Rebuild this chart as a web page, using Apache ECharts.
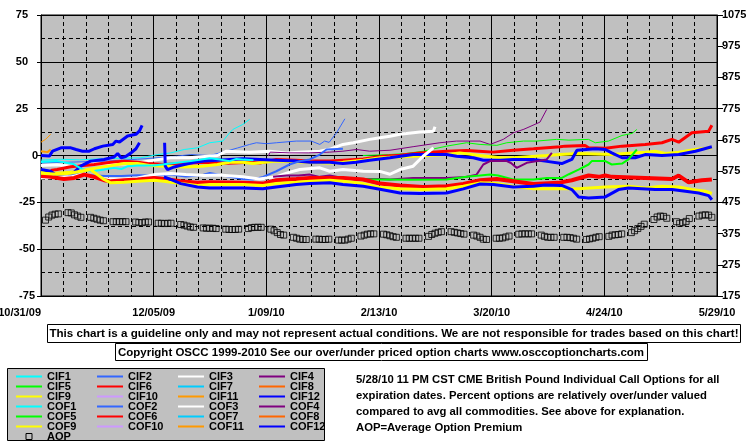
<!DOCTYPE html>
<html><head><meta charset="utf-8">
<script src="https://cdn.jsdelivr.net/npm/echarts@6/dist/echarts.min.js"></script>
<style>html,body{margin:0;padding:0;background:#fff}#c{width:755px;height:446px}</style>
</head><body><div id="c"></div>
<script>
// x = days since 10/31/09
const xLabels = ['10/31/09','12/05/09','1/09/10','2/13/10','3/20/10','4/24/10','5/29/10'];
const seriesNames = ['CIF1','CIF2','CIF3','CIF4','CIF5','CIF6','CIF7','CIF8','CIF9','CIF10','CIF11','CIF12',
                     'COF1','COF2','COF3','COF4','COF5','COF6','COF7','COF8','COF9','COF10','COF11','COF12'];

const cif1 = [[0,-2.5],[6,-2],[12,-2.3],[18,-1.8],[24,-1.5],[31,-1.2],[36.2,0.5],[40.3,1.4],[44.5,3.2],[48.6,4.1],[52.4,6.8],[56.5,7.7],[58.6,12.1],[59.6,13.9],[62.7,16.6],[64.8,19.3]];
const cof1 = [[0,-3.5],[5,-3],[10,-4.5],[13,-7.5],[16,-8.4],[19.6,-7.5],[22.7,-6.6],[25,-7.2],[27,-5.7],[30,-5.4],[35,-5.4],[40.3,-4.3],[46.5,-3],[52.4,-1.5],[55,-2],[58.6,-3],[60.7,-1.8],[63,-2.2],[66,-2.5]];
const cif2 = [[0,-4],[10,-3.5],[20,-3],[30,-2],[38,-1],[42.4,-0.3],[46.5,0.5],[52.4,0],[56.5,1.8],[61,4],[64.8,5.9],[66.9,6.8],[70,6.3],[73.1,6.8],[79.3,7.7],[84,7.7],[86.6,5.9],[88.1,7.7],[89.5,7],[91.8,12.1],[94.4,19.6]];
const cof2 = [[0,-10.2],[5,-10.2],[10,-10],[15,-10.5],[20,-11],[25,-11],[30,-10.5],[35,-10.7],[40,-10.2],[45,-11.2],[50,-10.5],[52.4,-9.3],[58.6,-11.4],[62.7,-12.5],[65.8,-12.8],[69,-11.4],[73.1,-8.4],[77.2,-4.8],[80.4,-3],[83.5,-2.1],[86.6,0.5],[88.7,3.2],[93.8,3.6]];
const cif3 = [[0,-5.4],[5,-5],[9.2,-5.7],[14.4,-4.8],[19.6,-4.3],[25,-4.6],[30,-4.3],[33.1,-3],[40.3,-1.2],[46,-1.2],[54.8,0],[57.6,2.3],[64.8,1.8],[71,2.3],[76.2,1.4],[80,1.8],[86.6,2.3],[90,3.5],[93.8,5.9],[97,6.8],[102.1,8.6],[105.3,9.5],[108.4,10.3],[111.5,11.3],[117.7,12.5],[121.9,13],[122.4,15.4]];
const cof3 = [[0,-12],[5,-11.8],[9.2,-11.4],[12.3,-10.2],[15,-11],[19.6,-12.5],[25.8,-12.5],[30,-12],[35.1,-10.2],[40.3,-9.6],[45,-10.2],[50.7,-10.7],[55,-10.4],[62.7,-11.4],[67.9,-12.5],[73,-11.4],[77,-9],[80.4,-7.5],[86.6,-6.6],[89.7,-8.4],[93.8,-7.5],[100.1,-8.4],[105.3,-8.5],[108.4,-10],[111.5,-7.5],[115.6,-5.7],[118.7,-0.4],[121.9,4.1]];
const cif4 = [[70.6,-0.3],[71.2,1.8],[77.3,1.4],[83,1.4],[89.7,1.8],[93.8,2.3],[98,3.2],[102.1,2.3],[108.4,2.8],[115.6,4.7],[123.9,6.8],[129.1,7.7],[136.4,7.7],[139.5,5.9],[143.6,8.6],[146.7,12.1],[150,14],[155,17.8],[157.1,24.6]];
const cof4 = [[72.1,-11.4],[76.2,-10.7],[80,-10.7],[83.5,-10.2],[86.6,-11.4],[89.7,-10.7],[93.8,-12],[100.1,-12.5],[105.3,-12.5],[108.4,-12.8],[115.6,-12],[126,-12],[132,-11.5],[135.3,-10.2],[137.4,-4.8],[139.5,-3],[144.7,-3],[146,-4],[147.8,-6.6],[150.9,-3.9],[157.1,-2.1],[158.7,1.4]];
const cif5 = [[100,0],[108,0.5],[113,1],[118.7,2.3],[126,5],[132.2,6.8],[136.4,5.9],[141.6,5.4],[144.7,6.8],[149.9,7.7],[154,7.7],[160.2,8.6],[164,8.2],[170.1,8.6],[172.2,6.8],[176.3,7.7],[180.5,10.7],[183.6,11.8],[185.1,13.9]];
const cof5 = [[99,-12.8],[105.3,-12.8],[115,-13],[126,-12.8],[132.2,-11.4],[136.4,-10.7],[139.5,-10.2],[142,-10.7],[146.7,-12.8],[153,-12.8],[157.1,-12],[161.8,-12],[164,-10],[167,-7.5],[170.1,-4.8],[171.1,-3],[175.3,-3],[177.3,-4.8],[180.5,-4.3],[182.5,-2.1],[185.1,3.2]];
const cif6 = [[3,-8],[5,-7.5],[9.2,-6],[16.5,-4.8],[21.7,-3.6],[25.8,-3],[30,-3.6],[33.1,-4.3],[38.3,-4.8],[44,-4.3],[50.7,-3.6],[52.4,-3.9],[58,-4.1],[64.8,-3.6],[68,-4],[73.1,-2.1],[79.3,-2.5],[83.5,-3],[89.7,-3],[94,-2.5],[100.1,-1.8],[106.3,-0.4],[111.5,0.2],[117.7,1.4],[126,2.3],[132.2,2.7],[136,2.3],[140.5,1.8],[146.7,2.8],[153,3.6],[161.3,4.7],[162.8,5],[169,5.4],[170.1,4.1],[175.3,3.9],[180.5,5],[187.7,5.9],[192.9,6.8],[196,8.6],[198.1,7.1],[202.2,12.1],[207.4,13],[208.4,16.1]];
const cof6 = [[0,-11],[3,-11.4],[7.1,-12.5],[10.3,-12],[13.4,-10.2],[16.5,-11.4],[19.6,-13.2],[21.7,-13.8],[25.8,-13.2],[30,-12.8],[35.1,-12],[38.2,-12.5],[43.4,-13.8],[48.6,-14.6],[52.4,-14.3],[62.7,-14.6],[68.9,-15],[73.1,-13.2],[79.3,-12.5],[83.5,-12],[93.8,-12],[100.1,-12.8],[105.3,-15],[111.5,-16],[118.7,-16.8],[126,-16.4],[131.2,-15.2],[136.4,-13.2],[141.6,-12.5],[146.7,-13.7],[153,-15.2],[160.7,-14.6],[164.9,-13.2],[170.1,-10.7],[173.2,-11.4],[175.3,-10.7],[177.3,-11.4],[187.7,-12],[196,-12.5],[198.1,-10.7],[201.2,-14.3],[205.3,-13.2],[208.4,-12.8]];
const cif9 = [[0,-9],[5,-9.5],[9,-9],[12.3,-8.4],[15.4,-7.2],[17.5,-6.6],[21.7,-5.4],[25.8,-4.3],[30,-4.3],[34.1,-5.4],[38.2,-5.7],[44.5,-6.1],[50,-5.7],[54.8,-4.8],[58.6,-3.6],[62.7,-3.6],[65.8,-4.3],[73.1,-3],[83.5,-3.6],[89,-4],[93.8,-3.6],[100.1,-2.5],[105.3,-1.2],[115.6,-0.4],[126,0.5],[130.1,1.4],[136.4,0],[142.6,-1.2],[146.7,-1.2],[157.1,0],[161.3,0.5],[167,1.1],[177.3,0.5],[183.6,1.4],[187.7,1.8],[190.8,2.3],[193.9,1.1],[198.1,1.8],[203.3,3.2],[208.4,4.1]];
const cof9 = [[0,-9.5],[5,-10],[9,-9.5],[12.3,-8.4],[15.4,-7.5],[17.5,-10.2],[19.6,-12.8],[21.7,-14.6],[25.8,-14.3],[30,-13.8],[35.1,-13.2],[38.2,-13.8],[43.4,-15],[48.6,-16],[52.4,-15.5],[62.7,-15.5],[68.9,-16],[73.1,-15],[79.3,-14.3],[83.5,-13.7],[89.7,-13.2],[93.8,-13.7],[100.1,-15],[105.3,-17],[111.5,-17.8],[118.7,-18.2],[126,-17.8],[131.2,-16.4],[136.4,-14.6],[141.6,-15],[146.7,-16.4],[153,-17.8],[161.3,-17.8],[167,-17.8],[175.3,-16.8],[182.5,-16.4],[187.7,-17.3],[192.9,-16.4],[198.1,-16.8],[202.2,-18.2],[206.4,-19.1],[208.4,-20.3]];
const cif11 = [[0,7.1],[1.4,8.6],[3,11.3]];
const cof11 = [[0,2.3],[2,1.8],[3,3.2]];
const cif12 = [[0,-7.5],[3,-8.4],[5.1,-11],[8.2,-12],[9.2,-10.7],[12.3,-5.7],[15.4,-3],[19.6,-2.1],[22.7,-0.8],[23.8,1.1],[24.9,-1.2],[26.3,-0.5],[28,1.4],[29.5,3.6],[30.6,6.8],[34.5,'-'],[38.4,6.8],[38.6,-5.7],[39.3,-7.5],[41.4,-6.1],[44.5,-4.8],[47.6,-3.6],[50.7,-3],[54.8,-2.5],[58.6,-2.1],[62.7,-1.8],[68,-2.1],[73.1,-2.5],[79.3,-3],[83.5,-3.6],[89.7,-3.6],[93.8,-4.3],[97.9,-3.6],[102.1,-2.5],[108.4,-1.2],[115.6,0.5],[126,0.5],[129.1,-0.4],[134.3,-1.2],[137.4,-2.5],[142.6,-2.5],[146.7,-2.1],[153,-2.1],[156.6,-3],[161.8,-4.3],[164.9,-2.1],[166.5,2.8],[172.2,3.6],[175.3,3.2],[177.3,1.4],[180.5,-1.2],[184.6,-1.2],[187.7,0.5],[192.9,0],[198.1,0.5],[203.3,2.3],[208.4,4.7]];
const cof12 = [[0,0],[2.6,-0.3],[3.6,2.3],[6.2,4.1],[9.3,4.1],[10.9,3.2],[12.9,2.3],[15,2.3],[16.6,3.6],[19.2,5],[22.3,5.9],[23.3,7.7],[24.4,7.2],[26.9,10.4],[29.5,11.3],[30.6,13.1],[31.4,16.1],[34.5,'-'],[38.2,-11.4],[40.3,-12.8],[43.4,-15],[48.6,-16.8],[52.4,-17.3],[62.7,-17.3],[68.9,-17.8],[73.1,-16.8],[79.3,-15.5],[83.5,-15],[89.7,-14.6],[93.8,-15.5],[100.1,-16.4],[105.3,-18],[111.5,-20],[117.7,-20.3],[126,-20],[131.2,-17.8],[136.4,-15.2],[140.5,-15.5],[146.7,-16.8],[153,-16.4],[156.6,-15.8],[161.8,-16],[164.9,-18.2],[167,-22.1],[170.1,-22.7],[175.3,-22.1],[179.4,-18.2],[182.5,-17.3],[190.8,-18.2],[196,-18.2],[200.2,-19.1],[204.3,-20],[207.4,-21.4],[208.4,-23.6]];

// Average option premium, one value per trading day (Mon..Fri of each week), right axis
const aopVals = [
 418,428,434,437,438, 442,441,435,431,427, 427,424,421,418,416, 413,413,413,413,413,
 412,410,410,412,412, 408,408,407,408,408, 404,402,399,396,395, 393,392,392,392,391,
 389,388,388,388,389, 391,394,395,395,395, 389,384,378,372,370, 363,360,357,356,356,
 357,357,356,356,357, 354,354,354,357,360, 367,370,373,374,374, 373,371,368,365,363,
 360,360,360,360,360, 366,372,376,379,381, 381,379,377,375,373, 370,367,363,357,356,
 360,360,361,364,367, 373,374,374,374,374, 370,366,363,363,363, 363,363,362,360,357,
 356,358,360,363,365, 366,370,371,372,374, 378,384,391,398,405, 420,428,431,430,424,
 413,408,410,414,423, 431,434,435,434,427];
const firstMonday = 1.4;

const descLines = [
 '5/28/10 11 PM CST CME British Pound Individual Call Options for all',
 'expiration dates. Percent options are relatively over/under valued',
 'compared to avg all commodities. See above for explanation.',
 'AOP=Average Option Premium'];

const lineData = {CIF1:cif1,CIF2:cif2,CIF3:cif3,CIF4:cif4,CIF5:cif5,CIF6:cif6,CIF9:cif9,CIF11:cif11,CIF12:cif12,
  COF1:cof1,COF2:cof2,COF3:cof3,COF4:cof4,COF5:cof5,COF6:cof6,COF9:cof9,COF11:cof11,COF12:cof12};
const palette = ['#00FFFF','#3366FF','#FFFFFF','#800080','#00FF00','#FF0000','#00CCFF','#FF6600','#FFFF00','#CC99FF','#FF9900','#0000FF'];
const cifWidth = [1,1,3,1,1,3,1,1,3,1,1,3];
const cofWidth = [2,2,3,2,2,4,2,2,3,2,2,3];

const FONT = '"Liberation Sans", Arial, sans-serif';
const aop = aopVals.map((v,i) => [firstMonday + Math.floor(i/5)*7 + (i%5), v]);

const series = seriesNames.map((n,i) => {
  const k = i % 12;
  const w = i < 12 ? cifWidth[k] : cofWidth[k];
  return {name:n, type:'line', data: lineData[n] || [], symbol:'none', showSymbol:false,
    connectNulls:false, animation:false,
    lineStyle:{color:palette[k], width:w}, itemStyle:{color:palette[k]}};
});
series.push({name:'AOP', type:'scatter', yAxisIndex:1, symbol:'rect', symbolSize:6, data:aop, animation:false,
  itemStyle:{color:'rgba(0,0,0,0)', borderColor:'#000', borderWidth:1}});

const legendData = seriesNames.map(n => n);
legendData.push({name:'AOP', icon:'path://M0,0L10,0L10,10L0,10Z', itemStyle:{opacity:1, borderWidth:1, borderColor:'#000', color:'rgba(0,0,0,0)'}});

const axisFont = {color:'#000', fontWeight:'bold', fontSize:11, fontFamily:FONT};
const chart = echarts.init(document.getElementById('c'), null, {renderer:'canvas'});
chart.setOption({
  animation:false,
  backgroundColor:'#fff',
  grid:{left:41, right:38, top:15, bottom:150, show:true, backgroundColor:'#C0C0C0', borderColor:'#000', borderWidth:1,
    containLabel:false, outerBoundsMode:'none'},
  xAxis:{type:'value', min:0, max:210, interval:35,
    axisLine:{lineStyle:{color:'#000'}}, axisTick:{show:false},
    axisLabel:Object.assign({margin:11, alignMinLabel:'right', formatter:v => xLabels[Math.round(v/35)]}, axisFont),
    splitLine:{show:true, lineStyle:{color:'#000', width:1}},
    minorTick:{show:false, splitNumber:5},
    minorSplitLine:{show:true, lineStyle:{color:'#000', width:1, type:[4,3]}}},
  yAxis:[
    {type:'value', min:-75, max:75, interval:25, position:'left',
     axisLine:{show:true, lineStyle:{color:'#000'}}, axisTick:{show:true, length:4, lineStyle:{color:'#000'}},
     axisLabel:Object.assign({margin:3,
       formatter:v => v > 0 ? '{p|' + v + '}' : (v < 0 ? '{n|' + v + '}' : String(v)),
       rich:{p:Object.assign({padding:[0,10,0,0]}, axisFont), n:Object.assign({padding:[0,3,0,0]}, axisFont)}}, axisFont),
     splitLine:{show:true, lineStyle:{color:'#000', width:1}},
     minorTick:{show:false, splitNumber:2},
     minorSplitLine:{show:true, lineStyle:{color:'#000', width:1, type:[4,3]}}},
    {type:'value', min:175, max:1075, interval:100, position:'right',
     axisLine:{show:true, lineStyle:{color:'#000'}}, axisTick:{show:true, length:6, lineStyle:{color:'#000'}},
     axisLabel:Object.assign({margin:5, formatter:v => String(v)}, axisFont),
     splitLine:{show:false}}
  ],
  legend:{data:legendData, left:15, top:371, width:330, padding:0, itemGap:-1, itemWidth:26, itemHeight:6,
    selectedMode:false, itemStyle:{opacity:0},
    textStyle:{color:'#000', fontWeight:'bold', fontSize:11, fontFamily:FONT, width:50, lineHeight:10, overflow:'none'}},
  graphic:[
    {type:'rect', z:0, shape:{x:47.5, y:324.5, width:693, height:18}, style:{fill:'#fff', stroke:'#000', lineWidth:1}},
    {type:'text', z:1, x:394, y:334, style:{text:'This chart is a guideline only and may not represent actual conditions. We are not responsible for trades based on this chart!', font:'bold 11.6px '+FONT, fill:'#000', textAlign:'center', textVerticalAlign:'middle'}},
    {type:'rect', z:0, shape:{x:115.5, y:343.5, width:532, height:17}, style:{fill:'#fff', stroke:'#000', lineWidth:1}},
    {type:'text', z:1, x:381, y:352.5, style:{text:'Copyright OSCC 1999-2010 See our over/under priced option charts www.osccoptioncharts.com', font:'bold 11.5px '+FONT, fill:'#000', textAlign:'center', textVerticalAlign:'middle'}},
    {type:'rect', z:0, shape:{x:7.5, y:368.5, width:317, height:72}, style:{fill:'#C0C0C0', stroke:'#000', lineWidth:1}},
    ...descLines.map((t,i) => ({type:'text', z:1, x:356, y:380 + i*16, style:{text:t, font:'bold 11.3px '+FONT, fill:'#000', textAlign:'left', textVerticalAlign:'middle'}}))
  ],
  series:series
});
</script></body></html>
